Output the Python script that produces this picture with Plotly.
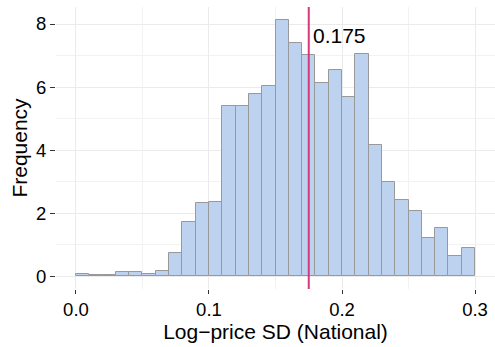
import numpy as np
import plotly.graph_objects as go

bin_edges = [0.00, 0.01, 0.02, 0.03, 0.04, 0.05, 0.06, 0.07, 0.08, 0.09, 0.10,
             0.11, 0.12, 0.13, 0.14, 0.15, 0.16, 0.17, 0.18, 0.19, 0.20,
             0.21, 0.22, 0.23, 0.24, 0.25, 0.26, 0.27, 0.28, 0.29, 0.30]
frequency = [0.08, 0.04, 0.04, 0.14, 0.14, 0.08, 0.16, 0.72, 1.71, 2.32,
             2.34, 5.41, 5.41, 5.79, 6.04, 8.13, 7.39, 7.02, 6.12, 6.54,
             5.68, 7.04, 4.16, 3.00, 2.42, 2.08, 1.20, 1.52, 0.63, 0.88]
mean_sd = 0.175
mean_label = "0.175"
x_ticks = [0.0, 0.1, 0.2, 0.3]
x_tick_labels = ["0.0", "0.1", "0.2", "0.3"]
y_ticks = [0, 2, 4, 6, 8]
y_tick_labels = ["0", "2", "4", "6", "8"]

edges = np.array(bin_edges)
centers = (edges[:-1] + edges[1:]) / 2
widths = np.diff(edges)

FONT = "Liberation Sans, Arial, sans-serif"

fig = go.Figure()
fig.add_trace(go.Bar(
    x=centers, y=frequency, width=widths,
    marker=dict(color="#BDD2EE", line=dict(color="#999999", width=1)),
    hoverinfo="skip", showlegend=False,
))

fig.add_shape(type="line", xref="x", yref="paper", x0=mean_sd, x1=mean_sd,
              y0=0, y1=1, line=dict(color="#D6387B", width=2))
fig.add_annotation(x=mean_sd, y=7.63, xref="x", yref="y", text=mean_label,
                   showarrow=False, xanchor="left", yanchor="middle", xshift=2,
                   font=dict(family=FONT, size=21, color="#000000"))

fig.update_layout(
    width=495, height=347,
    margin=dict(l=56, r=0, t=7, b=58),
    paper_bgcolor="white", plot_bgcolor="white",
    font=dict(family=FONT, size=18.5, color="#000000"),
    bargap=0,
    xaxis=dict(
        range=[-0.015, 0.315], tickvals=x_ticks, ticktext=x_tick_labels,
        automargin=False,
        showgrid=True, gridcolor="#EBEBEB", gridwidth=1, zeroline=False,
        showline=False, ticks="outside", ticklen=4, tickwidth=1, tickcolor="#333333",
        minor=dict(dtick=0.05, tick0=0, showgrid=True, gridcolor="#F2F2F2", gridwidth=1, ticks=""),
        title=dict(text="Log\u2212price SD (National)", font=dict(family=FONT, size=21), standoff=1),
        tickfont=dict(family=FONT, size=18.5, color="#000000"),
    ),
    yaxis=dict(
        range=[-0.41, 8.54], tickvals=y_ticks, ticktext=y_tick_labels,
        automargin=False,
        showgrid=True, gridcolor="#EBEBEB", gridwidth=1, zeroline=False,
        showline=False, ticks="outside", ticklen=5, tickwidth=1, tickcolor="#333333",
        minor=dict(dtick=1, tick0=0, showgrid=True, gridcolor="#F2F2F2", gridwidth=1, ticks=""),
        title=dict(text="Frequency", font=dict(family=FONT, size=21), standoff=2),
        tickfont=dict(family=FONT, size=18.5, color="#000000"),
    ),
)

fig.write_html("out.html", config={"displayModeBar": False},
               post_script="document.body.style.margin='0';document.body.style.overflow='hidden';")
